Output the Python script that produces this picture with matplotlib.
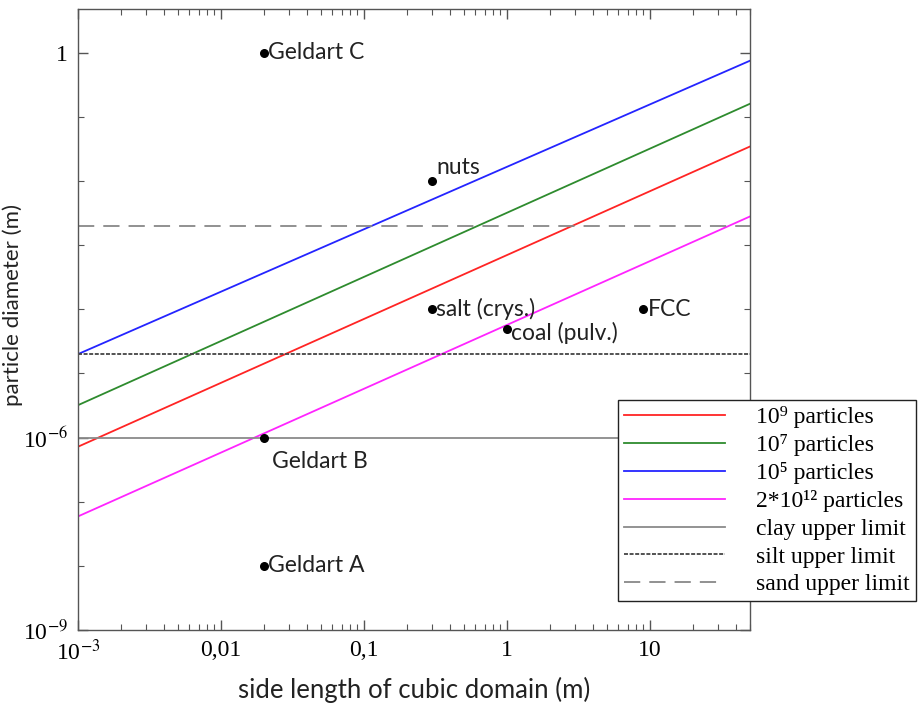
import numpy as np
import matplotlib
matplotlib.use("Agg")
import matplotlib.pyplot as plt
from matplotlib.ticker import FixedLocator, LogLocator, NullFormatter, FixedFormatter

plt.rcParams['mathtext.fontset'] = 'stix'

# ---- data ----
x_ends = [1e-3, 50]
series_labels = ['10⁹ particles', '10⁷ particles', '10⁵ particles', '2*10¹² particles']
series_colors = ['#ff2424', '#2e8b2e', '#2424ff', '#ff24ff']
red_d = [7.2e-7, 3.45e-2]
green_d = [3.2e-6, 1.6e-1]
blue_d = [2.0e-5, 7.5e-1]
magenta_d = [5.9e-8, 2.8e-3]
series_vals = [red_d, green_d, blue_d, magenta_d]

limit_labels = ['clay upper limit', 'silt upper limit', 'sand upper limit']
limit_vals = [1e-6, 2e-5, 2e-3]

point_names = ['Geldart C', 'Geldart B', 'Geldart A', 'nuts', 'salt (crys.)', 'coal (pulv.)', 'FCC']
point_x = [0.02, 0.02, 0.02, 0.3, 0.3, 1.0, 9.0]
point_y = [1.0, 1e-6, 1e-8, 1e-2, 1e-4, 5e-5, 1e-4]

xtick_vals = [1e-3, 1e-2, 1e-1, 1, 10]
xtick_labels = ['10$^{-3}$', '0,01', '0,1', '1', '10']
ytick_vals = [1e-9, 1e-6, 1]
ytick_labels = ['10$^{-9}$', '10$^{-6}$', '1']

fig = plt.figure(figsize=(9.23, 7.08), dpi=100)
ax = fig.add_axes([78/923, 1-630/708, (750-78)/923, (630-9)/708])
ax.set_xscale('log')
ax.set_yscale('log')
ax.set_xlim(1e-3, 50)
ax.set_ylim(1e-9, 4.8)

handles = []
for lab, col, vals in zip(series_labels, series_colors, series_vals):
    h, = ax.plot(x_ends, vals, color=col, lw=1.3, label=lab)
    handles.append(h)

h1 = ax.axhline(limit_vals[0], color='#8a8a8a', lw=1.3, label=limit_labels[0])
h2 = ax.axhline(limit_vals[1], color='#444444', lw=1.3, ls=(0, (2.2, 0.9)), label=limit_labels[1])
h3 = ax.axhline(limit_vals[2], color='#888888', lw=1.3, ls=(0, (9, 5)), label=limit_labels[2])
handles += [h1, h2, h3]

ax.scatter(point_x, point_y, s=30, color='black', zorder=5)
tfont = dict(family='Lato', fontsize=16.5, color='#222222')
offsets = {
    'Geldart C': (3, 0, 'left', 'center'),
    'Geldart B': (6, -10, 'left', 'top'),
    'Geldart A': (3, 0, 'left', 'center'),
    'nuts': (3, 2, 'left', 'bottom'),
    'salt (crys.)': (3, 0, 'left', 'center'),
    'coal (pulv.)': (3, -3, 'left', 'center'),
    'FCC': (3, 0, 'left', 'center'),
}
for n, x, y in zip(point_names, point_x, point_y):
    dx, dy, ha, va = offsets[n]
    ax.annotate(n, (x, y), xytext=(dx, dy), textcoords='offset points',
                ha=ha, va=va, **tfont)

ax.xaxis.set_major_locator(FixedLocator(xtick_vals))
ax.xaxis.set_major_formatter(FixedFormatter(xtick_labels))
ax.xaxis.set_minor_locator(LogLocator(base=10, subs=np.arange(2, 10)))
ax.xaxis.set_minor_formatter(NullFormatter())
ax.yaxis.set_major_locator(FixedLocator(ytick_vals))
ax.yaxis.set_major_formatter(FixedFormatter(ytick_labels))
ax.yaxis.set_minor_locator(FixedLocator([10.0**k for k in range(-8, 1) if k not in (-6,)]))
ax.yaxis.set_minor_formatter(NullFormatter())

ax.tick_params(which='both', direction='in', top=True, right=True, color='#555555')
ax.tick_params(which='major', length=7, width=1, labelsize=17, pad=7)
ax.tick_params(which='minor', length=4, width=0.8)
for lbl in ax.get_xticklabels() + ax.get_yticklabels():
    lbl.set_family('Liberation Serif')
for s in ax.spines.values():
    s.set_color('#555555')
    s.set_linewidth(1.0)

ax.set_xlabel('side length of cubic domain (m)', family='Lato', fontsize=18.5, color='#222222', labelpad=8)
ax.set_ylabel('particle diameter (m)', family='Lato', fontsize=16, color='#222222')
ax.yaxis.set_label_coords(-0.082, (630-305)/621)

leg = fig.legend(handles=handles, loc='upper left', bbox_to_anchor=(618/923, 1-400/708),
                 bbox_transform=fig.transFigure,
                 prop={'family': ['Liberation Serif', 'DejaVu Serif'], 'size': 17},
                 handlelength=4.3, handletextpad=1.3, labelspacing=0.26,
                 borderpad=0.25, borderaxespad=0, fancybox=False, framealpha=1,
                 edgecolor='#222222')
leg.get_frame().set_linewidth(1.0)

fig.savefig('out.png', dpi=100)
